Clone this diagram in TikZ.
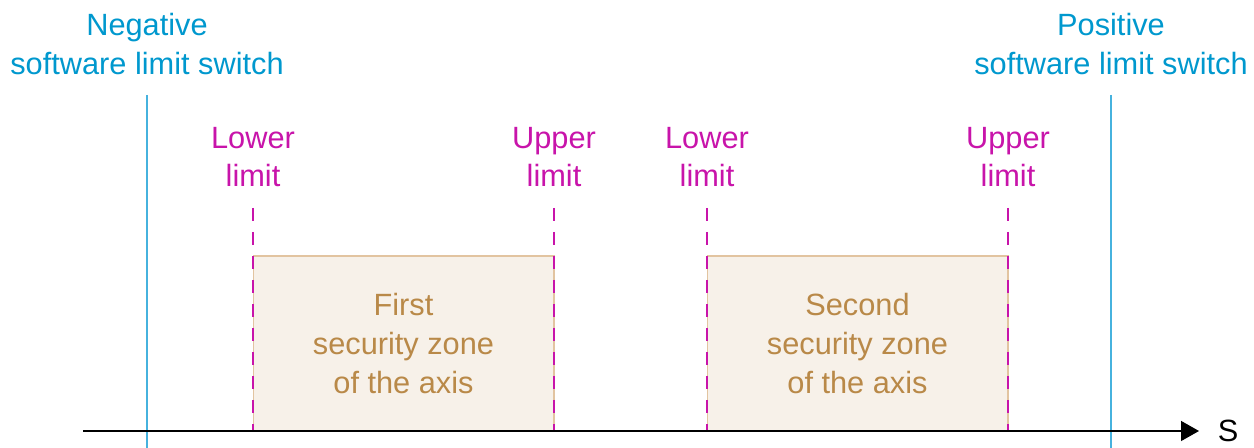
\documentclass[tikz,border=0pt]{standalone}
\usepackage{fontspec}
\setmainfont{Liberation Sans}
\usepackage{xcolor}
\usepackage{tikz}
\usetikzlibrary{calc, positioning, arrows.meta}
\definecolor{swblue}{RGB}{0,152,206}
\definecolor{swline}{RGB}{70,178,222}
\definecolor{limmag}{RGB}{200,20,170}
\definecolor{zonetext}{RGB}{185,137,72}
\definecolor{zonefill}{RGB}{247,241,233}
\definecolor{zoneedge}{RGB}{226,196,160}

\begin{document}
\begin{tikzpicture}
		[x=0.02cm, y=-0.02cm,
		every node/.style={font=\fontsize{17.5}{22}\selectfont, align=center},
		swlabel/.style={text=swblue},
		limlabel/.style={text=limmag},
		swedge/.style={draw=swline, line width=0.75pt},
		zone/.style={draw=zoneedge, line width=0.6pt, fill=zonefill, text=zonetext, minimum width=6.02cm, minimum height=3.5cm, inner sep=0pt},
		limdash/.style={draw=limmag, line width=0.7pt, dash pattern=on 0.26cm off 0.22cm}]
		\useasboundingbox (0,0) rectangle (1254,448);
		% nodes %
		\node[swlabel] (neg) at (147,44) {Negative\\software limit switch};
		\node[swlabel] (pos) at (1111,44) {Positive\\software limit switch};
		\node[limlabel] (lo1) at (253,157) {Lower\\limit};
		\node[limlabel] (up1) at (554,157) {Upper\\limit};
		\node[limlabel] (lo2) at (707,157) {Lower\\limit};
		\node[limlabel] (up2) at (1008,157) {Upper\\limit};
		\node[zone] (zone1) at (403.5,343.5) {First\\security zone\\of the axis};
		\node[zone] (zone2) at (857.5,343.5) {Second\\security zone\\of the axis};
		\node (s) at (1228,431) {S};
		\coordinate (axstart) at (83,431);
		\coordinate (axend) at (1199,431);

		% edges %
		\draw[swedge] (neg |- 0,95) -- (neg |- 0,448);
		\draw[swedge] (pos |- 0,95) -- (pos |- 0,448);
		\foreach \lim in {lo1, up1, lo2, up2}
			\draw[limdash] (\lim |- 0,208) -- (\lim |- axstart);
		\draw[line width=0.75pt, -{Triangle[length=0.36cm, width=0.4cm]}] (axstart) -- (axend);
		\end{tikzpicture}
\end{document}
